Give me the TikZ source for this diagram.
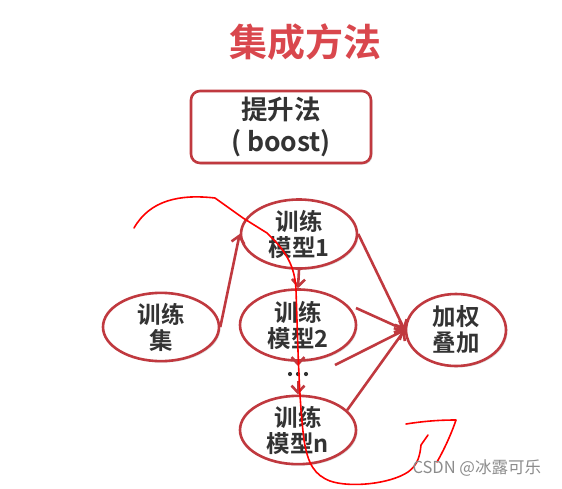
\documentclass[tikz,border=0pt]{standalone}
\usepackage{fontspec}
\setmainfont{Noto Sans CJK SC}
\newfontfamily\cjkbold{Noto Sans CJK SC Bold}
\newfontfamily\cjkreg{Noto Sans CJK SC}
\usetikzlibrary{shapes.geometric,arrows.meta,shadows}
\definecolor{titlered}{HTML}{D9474D}
\definecolor{edgered}{HTML}{C0393F}
\definecolor{txt}{HTML}{333333}
\begin{document}
\begin{tikzpicture}[x=1pt,y=-1pt,
  oval/.style={ellipse, draw=edgered, line width=2.6pt, fill=white, inner sep=0pt,
    minimum width=116pt, minimum height=68pt, align=center,
    font=\cjkbold\fontsize{23.5}{26}\selectfont, text=txt,
    drop shadow={shadow xshift=1.5pt, shadow yshift=-1.5pt, opacity=0.25}},
  conn/.style={draw=edgered, line width=2.6pt, -{Straight Barb[length=7pt,width=13pt]}},
  dotn/.style={circle, fill=txt, inner sep=0pt, minimum size=4.2pt},
  ink/.style={draw=red, line width=1.6pt, line cap=round, line join=round}]
\useasboundingbox (0,0) rectangle (562,488);
% title
\node[font=\cjkbold\fontsize{38}{42}\selectfont, text=titlered] (title) at (305,42) {集成方法};
% box
\node[draw=edgered, line width=2.6pt, rounded corners=9pt, fill=white,
  minimum width=180pt, minimum height=72pt, align=center, text=txt,
  font=\cjkbold\fontsize{26.5}{32}\selectfont,
  drop shadow={shadow xshift=1.5pt, shadow yshift=-1.5pt, opacity=0.25}] (boost) at (281,127) {提升法\\( boost)};
% ellipses
\node[oval] (tsj) at (161,327) {训练\\集};
\node[oval, minimum height=69pt] (m1) at (299,234) {训练\\模型1};
\node[oval, minimum height=71pt] (m2) at (298,325) {训练\\模型2};
\node[oval, minimum height=65pt] (mn) at (298,430) {训练\\模型n};
\node[oval, minimum width=100pt, minimum height=72pt] (jq) at (456,330) {加权\\叠加};
% dots
\node[dotn] (dA) at (290,374) {};
\node[dotn] (dB) at (298,374) {};
\node[dotn] (dC) at (306,374) {};
\coordinate (d1) at (298,366);
\coordinate (d2) at (298,381);
\coordinate (s2) at (356,308);
\coordinate (s3) at (335,365);
% connectors
\draw[conn] (tsj.east) -- (m1.west);
\draw[conn] (m1.south) -- (m2.north);
\draw[conn] (m2.south) -- (d1);
\draw[conn] (d2) -- (mn.north);
\draw[conn] (m1.east) -- (jq.west);
\draw[conn] (s2) -- (jq.west);
\draw[conn] (s3) -- (jq.west);
\draw[conn] (mn.22) -- (jq.west);
% red hand annotations
\draw[ink] (134,228) .. controls (150,200) and (180,194) .. (215,198)
  -- (243,218) -- (267,233) .. controls (285,250) and (295,265) .. (296,290)
  .. controls (298,350) and (299,400) .. (304,440)
  .. controls (308,465) and (315,475) .. (330,481)
  .. controls (350,488) and (390,484) .. (408,472)
  .. controls (418,465) and (420,455) .. (421,445)
  -- (428,435);
\draw[ink] (406,424) .. controls (425,421) and (440,420) .. (456,420)
  .. controls (452,432) and (445,448) .. (437,462);
% watermark
\node[font=\cjkreg\fontsize{16.5}{16.5}\selectfont, text=black!45, anchor=west] (wm) at (409,468) {CSDN @冰露可乐};
\end{tikzpicture}
\end{document}
